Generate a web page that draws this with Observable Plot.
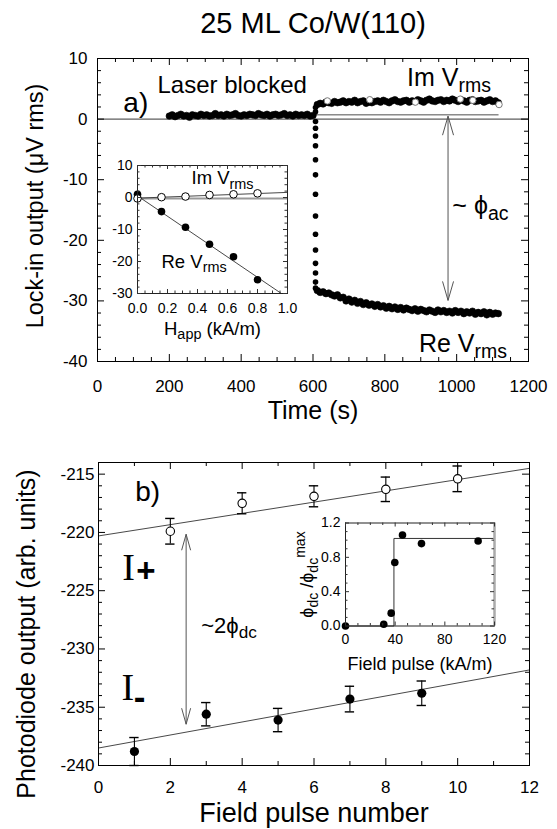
<!DOCTYPE html>
<html><head><meta charset="utf-8">
<script src="https://cdn.jsdelivr.net/npm/d3@7"></script>
<script src="https://cdn.jsdelivr.net/npm/@observablehq/plot@0.6"></script>
<style>
html,body{margin:0;padding:0;background:#fff;}
#fig{position:relative;width:557px;height:829px;overflow:hidden;background:#fff;}
#fig svg{position:absolute;}
</style></head><body><div id="fig"></div>
<script>
// ---------------- DATA ----------------
// panel a) lock-in output vs time
const timeTicks = [0, 200, 400, 600, 800, 1000, 1200];
const lockTicks = [-40, -30, -20, -10, 0, 10];
const blockedT = [200,208,216,224,232,240,248,256,264,272,280,288,296,304,312,320,328,336,344,352,360,368,376,384,392,400,408,416,424,432,440,448,456,464,472,480,488,496,504,512,520,528,536,544,552,560,568,576,584,592,600];
const blockedV = [0.5,0.7,0.4,0.6,0.8,0.5,0.6,0.3,0.7,0.6,0.5,0.8,0.6,0.7,0.5,0.6,0.9,0.6,0.7,0.5,0.8,0.6,0.7,0.9,0.6,0.5,0.7,0.6,0.8,0.7,0.6,0.9,0.7,0.6,0.8,0.5,0.7,0.8,0.6,0.7,0.9,0.6,0.7,0.5,0.8,0.6,0.7,0.6,0.8,0.5,0.6];
const jumpReT = [607,607,607,607,607,607,607,607,607,607,607,607,607,607];
const jumpReV = [-0.4,-1.5,-2.8,-4.4,-6.7,-9.2,-12.4,-16.0,-19.0,-21.6,-23.8,-25.4,-26.9,-27.9];
const jumpImT = [607,607];
const jumpImV = [1.2,1.9];
const afterT = [612,620,628,636,644,652,660,668,676,684,692,700,708,716,724,732,740,748,756,764,772,780,788,796,804,812,820,828,836,844,852,860,868,876,884,892,900,908,916,924,932,940,948,956,964,972,980,988,996,1004,1012,1020,1028,1036,1044,1052,1060,1068,1076,1084,1092,1100,1108,1116];
const imV = [2.4,2.6,2.5,2.8,2.7,2.6,2.9,2.7,2.8,3.0,2.7,2.9,2.8,3.1,2.7,2.9,3.0,2.6,2.8,2.7,2.9,3.0,2.8,3.1,2.9,2.7,3.0,3.2,2.9,2.8,3.0,3.1,2.8,3.0,2.9,3.2,3.0,2.8,3.1,3.3,3.0,2.9,3.1,3.2,2.9,3.1,3.0,3.3,3.1,2.9,3.2,3.0,2.8,3.1,3.2,2.9,3.0,3.1,2.8,3.0,3.2,2.9,3.0,2.7];
const reV = [-28.3,-28.6,-28.5,-28.8,-28.7,-29.0,-29.2,-29.0,-29.5,-29.4,-30.0,-29.7,-30.2,-29.9,-30.4,-30.1,-30.6,-30.3,-30.7,-30.5,-30.9,-30.6,-31.0,-30.8,-31.2,-30.9,-31.3,-31.0,-31.4,-31.1,-31.5,-31.2,-31.4,-31.6,-31.3,-31.7,-31.4,-31.6,-31.8,-31.5,-31.7,-31.9,-31.5,-31.8,-31.6,-31.9,-31.7,-32.0,-31.6,-31.9,-31.7,-32.1,-31.8,-32.0,-31.7,-32.2,-31.9,-32.1,-31.8,-32.3,-31.9,-32.2,-32.0,-32.1];
const imOpenT = [640,758,885,1010,1045,1118];
const imOpenV = [3.0,3.2,2.8,3.3,3.1,2.4];
const blockedLevel = 0.7, blockedLineT = [604, 1118];
const acArrow = {t: 976, from: 0.4, to: -30.0};

// inset of panel a): signal vs applied field
const hTicks = [0, 0.2, 0.4, 0.6, 0.8, 1.0];
const hValTicks = [-30, -20, -10, 0, 10];
const hApp = [0, 0.16, 0.32, 0.48, 0.64, 0.8];
const insetIm = [-0.3, 0.1, 0.3, 0.8, 1.0, 1.3];
const insetRe = [1.0, -4.4, -9.3, -14.6, -18.5, -25.7];
const imFitH = [0, 1.0], imFitV = [-0.2, 1.6];
const reFitH = [0, 1.0], reFitV = [0.5, -31.3];
const zeroRef = -0.3;

// panel b) photodiode output vs field pulse number
const pulseTicks = [0, 2, 4, 6, 8, 10, 12];
const photoTicks = [-240, -235, -230, -225, -220, -215];
const plusN = [2, 4, 6, 8, 10];
const plusV = [-219.9, -217.5, -216.9, -216.3, -215.4];
const plusE = [1.1, 0.9, 0.9, 1.05, 1.1];
const minusN = [1, 3, 5, 7, 9];
const minusV = [-238.8, -235.6, -236.1, -234.3, -233.8];
const minusE = [1.2, 1.0, 1.0, 1.1, 1.05];
const plusFitN = [0, 12], plusFitV = [-220.3, -214.5];
const minusFitN = [0, 12], minusFitV = [-238.5, -231.8];
const dcArrow = {n: 2.44, from: -220.2, to: -236.5};

// inset of panel b): normalised phi_dc vs field pulse
const fpTicks = [0, 40, 80, 120];
const ratioTicks = [0.0, 0.4, 0.8, 1.2];
const fieldPulse = [0, 30.8, 36.8, 39.7, 45.9, 61.2, 106.8];
const phiRatio = [0.0, 0.02, 0.15, 0.74, 1.06, 0.96, 0.99];
const stepX = [0, 39, 39, 120], stepY = [0, 0, 1.02, 1.02];

// ---------------- HELPERS ----------------
const SANS = '"Liberation Sans", Arial, Helvetica, sans-serif';
const SERIF = '"Liberation Serif", "Times New Roman", serif';
const zip = (xs, ys, kx = "x", ky = "y") => xs.map((x, i) => ({[kx]: x, [ky]: ys[i]}));
const minor = (a, b, step, major) => d3.range(a, b + step / 2, step).map(v => +v.toFixed(4)).filter(v => !major.some(m => Math.abs(m - v) < 1e-6));
const ARROW = () => "arrow";

function frameTicks(o) {
  const s = o.stroke || "black", m = [];
  for (const [vals, L] of [[o.xMaj, o.Lmaj], [o.xMin, o.Lmin]]) {
    m.push(Plot.tickX(vals, {x: d => d, insetTop: o.H - L, stroke: s, strokeWidth: 1}));
    m.push(Plot.tickX(vals, {x: d => d, insetBottom: o.H - L, stroke: s, strokeWidth: 1}));
  }
  for (const [vals, L] of [[o.yMaj, o.Lmaj], [o.yMin, o.Lmin]]) {
    m.push(Plot.tickY(vals, {y: d => d, insetRight: o.W - L, stroke: s, strokeWidth: 1}));
    m.push(Plot.tickY(vals, {y: d => d, insetLeft: o.W - L, stroke: s, strokeWidth: 1}));
  }
  return m;
}

function rich(svg) {
  const ns = "http://www.w3.org/2000/svg";
  svg.querySelectorAll("text").forEach(t => {
    const s = t.textContent;
    if (!/[_^]\{/.test(s)) return;
    const fs = parseFloat(getComputedStyle(t).fontSize) || 16;
    const parts = []; const re = /([_^])\{([^}]*)\}/g; let last = 0, m;
    while ((m = re.exec(s))) {
      if (m.index > last) parts.push([s.slice(last, m.index), 0]);
      parts.push([m[2], m[1] === "_" ? 1 : -1]);
      last = re.lastIndex;
    }
    if (last < s.length) parts.push([s.slice(last), 0]);
    t.textContent = "";
    let cur = 0;
    for (const [txt, kind] of parts) {
      const sp = document.createElementNS(ns, "tspan");
      const target = kind === 1 ? 0.24 * fs : kind === -1 ? -0.48 * fs : 0;
      sp.setAttribute("dy", (target - cur).toFixed(2));
      cur = target;
      if (kind) sp.setAttribute("font-size", (0.78 * fs).toFixed(2));
      sp.textContent = txt;
      t.appendChild(sp);
    }
  });
}

let arrowId = 0;
function arrowify(svg, len, half, color) {
  const lines = svg.querySelectorAll('[aria-label="arrow"]');
  if (!lines.length) return;
  const ns = "http://www.w3.org/2000/svg";
  const defs = document.createElementNS(ns, "defs");
  svg.insertBefore(defs, svg.firstChild);
  const id = "arrowhead" + (arrowId++);
  const mk = document.createElementNS(ns, "marker");
  mk.setAttribute("id", id);
  mk.setAttribute("markerUnits", "userSpaceOnUse");
  mk.setAttribute("markerWidth", len + 2);
  mk.setAttribute("markerHeight", 2 * half + 2);
  mk.setAttribute("viewBox", `${-len - 1} ${-half - 1} ${len + 2} ${2 * half + 2}`);
  mk.setAttribute("refX", 0); mk.setAttribute("refY", 0);
  mk.setAttribute("orient", "auto-start-reverse");
  mk.setAttribute("overflow", "visible");
  const p = document.createElementNS(ns, "path");
  p.setAttribute("d", `M${-len},${-half}L0,0L${-len},${half}`);
  p.setAttribute("fill", "none"); p.setAttribute("stroke", color); p.setAttribute("stroke-width", 1);
  mk.appendChild(p); defs.appendChild(mk);
  lines.forEach(l => {
    l.setAttribute("marker-start", `url(#${id})`);
    l.setAttribute("marker-end", `url(#${id})`);
  });
}

const fig = document.getElementById("fig");
function place(svg, left, top, len = 18, half = 5) {
  svg.style.left = left + "px"; svg.style.top = top + "px";
  fig.appendChild(svg);
  rich(svg);
  arrowify(svg, len, half, "#555");
}
const baseStyle = fs => ({fontFamily: SANS, fontSize: fs + "px", background: "transparent", color: "black", overflow: "visible"});

// ---------------- PANEL a) ----------------
{
  const W = 557, H = 430, mL = 97, mR = 29, mT = 58, mB = 69;
  const blocked = zip(blockedT, blockedV);
  const jumpRe = zip(jumpReT, jumpReV), jumpIm = zip(jumpImT, jumpImV);
  const im = zip(afterT, imV), re = zip(afterT, reV), imOpen = zip(imOpenT, imOpenV);
  const svg = Plot.plot({
    width: W, height: H, marginLeft: mL, marginRight: mR, marginTop: mT, marginBottom: mB,
    x: {domain: [0, 1200]}, y: {domain: [-40, 10]},
    style: baseStyle(17),
    marks: [
      Plot.ruleY([0], {stroke: "black", strokeWidth: 0.8}),
      Plot.ruleY([blockedLevel], {x1: blockedLineT[0], x2: blockedLineT[1], stroke: "#222", strokeWidth: 0.8}),
      Plot.dot(blocked, {x: "x", y: "y", r: 3.3, fill: "black", stroke: "black", strokeWidth: 0.6}),
      Plot.dot(im, {x: "x", y: "y", r: 3.3, fill: "black", stroke: "black", strokeWidth: 0.6}),
      Plot.dot(imOpen, {x: "x", y: "y", r: 3.2, fill: "white", stroke: "#777", strokeWidth: 1}),
      Plot.dot(re, {x: "x", y: "y", r: 3.3, fill: "black", stroke: "black", strokeWidth: 0.6}),
      Plot.dot(jumpRe, {x: "x", y: "y", r: 2.8, fill: "black"}),
      Plot.dot(jumpIm, {x: "x", y: "y", r: 2.8, fill: "black"}),
      Plot.ruleX([acArrow], {x: "t", y1: "from", y2: "to", stroke: "#555", strokeWidth: 1, ariaLabel: ARROW}),
      Plot.frame({stroke: "black", strokeWidth: 1}),
      ...frameTicks({W: W - mL - mR, H: H - mT - mB, Lmaj: 7, Lmin: 4,
        xMaj: timeTicks, xMin: minor(0, 1200, 50, timeTicks), yMaj: lockTicks, yMin: minor(-40, 10, 2, lockTicks)}),
      Plot.axisX({ticks: timeTicks, tickSize: 0, tickPadding: 18, fontSize: 17, tickFormat: d => String(d), label: null}),
      Plot.axisY({ticks: lockTicks, tickSize: 0, tickPadding: 10, fontSize: 17, tickFormat: d => String(d), label: null}),
      Plot.text(["25 ML Co/W(110)"], {frameAnchor: "top", dy: -26, lineAnchor: "bottom", textAnchor: "middle", fontSize: 29}),
      Plot.text(["Time (s)"], {frameAnchor: "bottom", dy: 57, lineAnchor: "bottom", textAnchor: "middle", fontSize: 25}),
      Plot.text(["Lock-in output (\u03bcV rms)"], {frameAnchor: "left", dx: -62, dy: -4, rotate: -90, textAnchor: "middle", fontSize: 23.5}),
      Plot.text([{t: 72, v: 1.1, s: "a)"}], {x: "t", y: "v", text: "s", textAnchor: "start", lineAnchor: "bottom", fontSize: 28}),
      Plot.text([{t: 167, v: 4.3, s: "Laser blocked"}], {x: "t", y: "v", text: "s", textAnchor: "start", lineAnchor: "bottom", fontSize: 24}),
      Plot.text([{t: 862, v: 5.5, s: "Im V_{rms}"}, {t: 895, v: -38.4, s: "Re V_{rms}"}, {t: 988, v: -15.6, s: "~ \u03d5_{ac}"}],
        {x: "t", y: "v", text: "s", textAnchor: "start", lineAnchor: "bottom", fontSize: 25})
    ]
  });
  place(svg, 0, 0, 19, 5.5);
}

// ---------------- INSET of a) ----------------
{
  const W = 200, H = 210, mL = 37, mR = 13, mT = 15, mB = 67;
  const imPts = zip(hApp, insetIm), rePts = zip(hApp, insetRe);
  const svg = Plot.plot({
    width: W, height: H, marginLeft: mL, marginRight: mR, marginTop: mT, marginBottom: mB,
    x: {domain: [0, 1]}, y: {domain: [-30, 10]},
    style: baseStyle(14),
    marks: [
      Plot.ruleY([zeroRef], {stroke: "#999", strokeWidth: 2}),
      Plot.line(zip(imFitH, imFitV), {x: "x", y: "y", stroke: "#333", strokeWidth: 0.9}),
      Plot.line(zip(reFitH, reFitV), {x: "x", y: "y", stroke: "#333", strokeWidth: 0.9, clip: true}),
      Plot.dot(rePts, {x: "x", y: "y", r: 3.8, fill: "black"}),
      Plot.dot(imPts, {x: "x", y: "y", r: 3.8, fill: "white", stroke: "black", strokeWidth: 1}),
      Plot.frame({stroke: "#222", strokeWidth: 1}),
      ...frameTicks({W: W - mL - mR, H: H - mT - mB, Lmaj: 4, Lmin: 2.5, stroke: "#333",
        xMaj: hTicks, xMin: minor(0, 1, 0.05, hTicks), yMaj: hValTicks, yMin: minor(-30, 10, 2, hValTicks)}),
      Plot.axisX({ticks: hTicks, tickSize: 0, tickPadding: 10, fontSize: 14, tickFormat: d => d.toFixed(1), label: null}),
      Plot.axisY({ticks: hValTicks, tickSize: 0, tickPadding: 5, fontSize: 14, tickFormat: d => String(d), label: null}),
      Plot.text([{x: 0.36, y: 4.2, s: "Im V_{rms}"}, {x: 0.16, y: -21.9, s: "Re V_{rms}"}],
        {x: "x", y: "y", text: "s", textAnchor: "start", lineAnchor: "bottom", fontSize: 18.5}),
      Plot.text(["H_{app} (kA/m)"], {frameAnchor: "bottom", dy: 41, lineAnchor: "bottom", textAnchor: "middle", fontSize: 18.5})
    ]
  });
  place(svg, 100, 150);
}

// ---------------- PANEL b) ----------------
{
  const W = 557, H = 399, mL = 98, mR = 28, mT = 32, mB = 64;
  const plus = plusN.map((n, i) => ({n, v: plusV[i], e: plusE[i]}));
  const minus = minusN.map((n, i) => ({n, v: minusV[i], e: minusE[i]}));
  const cap = 0.13;
  const bars = (data) => [
    Plot.ruleX(data, {x: "n", y1: d => d.v - d.e, y2: d => d.v + d.e, stroke: "black", strokeWidth: 1.1}),
    Plot.ruleY(data, {y: d => d.v + d.e, x1: d => d.n - cap, x2: d => d.n + cap, stroke: "black", strokeWidth: 1.4}),
    Plot.ruleY(data, {y: d => d.v - d.e, x1: d => d.n - cap, x2: d => d.n + cap, stroke: "black", strokeWidth: 1.4})
  ];
  const svg = Plot.plot({
    width: W, height: H, marginLeft: mL, marginRight: mR, marginTop: mT, marginBottom: mB,
    x: {domain: [0, 12]}, y: {domain: [-240, -214]},
    style: baseStyle(17),
    marks: [
      Plot.line(zip(plusFitN, plusFitV), {x: "x", y: "y", stroke: "#333", strokeWidth: 0.9}),
      Plot.line(zip(minusFitN, minusFitV), {x: "x", y: "y", stroke: "#333", strokeWidth: 0.9}),
      ...bars(plus), ...bars(minus),
      Plot.dot(plus, {x: "n", y: "v", r: 4.2, fill: "white", stroke: "black", strokeWidth: 1.1}),
      Plot.dot(minus, {x: "n", y: "v", r: 4.6, fill: "black"}),
      Plot.ruleX([dcArrow], {x: "n", y1: "from", y2: "to", stroke: "#555", strokeWidth: 1, ariaLabel: ARROW}),
      Plot.frame({stroke: "black", strokeWidth: 1}),
      ...frameTicks({W: W - mL - mR, H: H - mT - mB, Lmaj: 7, Lmin: 4,
        xMaj: pulseTicks, xMin: minor(0, 12, 1, pulseTicks), yMaj: photoTicks, yMin: minor(-240, -214, 1, photoTicks)}),
      Plot.axisX({ticks: pulseTicks, tickSize: 0, tickPadding: 15, fontSize: 17, tickFormat: d => String(d), label: null}),
      Plot.axisY({ticks: photoTicks, tickSize: 0, tickPadding: 4, fontSize: 17, tickFormat: d => String(d), label: null}),
      Plot.text(["Field pulse number"], {frameAnchor: "bottom", dy: 56, lineAnchor: "bottom", textAnchor: "middle", fontSize: 27}),
      Plot.text(["Photodiode output (arb. units)"], {frameAnchor: "left", dx: -72, dy: 20, rotate: -90, textAnchor: "middle", fontSize: 25}),
      Plot.text([{n: 1.02, v: -217.3, s: "b)"}], {x: "n", y: "v", text: "s", textAnchor: "start", lineAnchor: "bottom", fontSize: 28}),
      Plot.text([{n: 0.66, v: -224.1, s: "I"}, {n: 0.64, v: -234.4, s: "I"}], {x: "n", y: "v", text: "s", textAnchor: "start", lineAnchor: "bottom", fontSize: 38, fontFamily: SERIF}),
      Plot.text([{n: 1.05, v: -223.35, s: "+"}], {x: "n", y: "v", text: "s", textAnchor: "start", fontSize: 33, fontWeight: "bold"}),
      Plot.text([{n: 0.98, v: -234.2, s: "-"}], {x: "n", y: "v", text: "s", textAnchor: "start", fontSize: 35, fontWeight: "bold"}),
      Plot.text([{n: 2.86, v: -228.6, s: "~2\u03d5_{dc}"}], {x: "n", y: "v", text: "s", textAnchor: "start", lineAnchor: "bottom", fontSize: 22})
    ]
  });
  place(svg, 0, 430, 16, 4.5);
}

// ---------------- INSET of b) ----------------
{
  const W = 240, H = 180, mL = 75, mR = 16, mT = 22.5, mB = 54.5;
  const pts = zip(fieldPulse, phiRatio);
  const svg = Plot.plot({
    width: W, height: H, marginLeft: mL, marginRight: mR, marginTop: mT, marginBottom: mB,
    x: {domain: [0, 120]}, y: {domain: [0, 1.2]},
    style: baseStyle(14),
    marks: [
      Plot.line(zip(stepX, stepY), {x: "x", y: "y", stroke: "#333", strokeWidth: 1}),
      Plot.frame({stroke: "#222", strokeWidth: 1}),
      Plot.ruleX([120], {stroke: "#aaa", strokeWidth: 2.5}),
      Plot.dot(pts, {x: "x", y: "y", r: 3.8, fill: "black"}),
      ...frameTicks({W: W - mL - mR, H: H - mT - mB, Lmaj: 4, Lmin: 2.5, stroke: "#333",
        xMaj: fpTicks, xMin: minor(0, 120, 10, fpTicks), yMaj: ratioTicks, yMin: minor(0, 1.2, 0.1, ratioTicks)}),
      Plot.axisX({ticks: fpTicks, tickSize: 0, tickPadding: 8, fontSize: 14, tickFormat: d => String(d), label: null}),
      Plot.axisY({ticks: ratioTicks, tickSize: 0, tickPadding: 5, fontSize: 14, tickFormat: d => d.toFixed(1), label: null}),
      Plot.text(["Field pulse (kA/m)"], {frameAnchor: "bottom", dy: 43.5, lineAnchor: "bottom", textAnchor: "middle", fontSize: 18}),
      Plot.text(["\u03d5_{dc} /\u03d5_{dc}^{max}"], {frameAnchor: "left", dx: -38, rotate: -90, textAnchor: "middle", fontSize: 18})
    ]
  });
  place(svg, 270, 500);
}
</script>
</body></html>
